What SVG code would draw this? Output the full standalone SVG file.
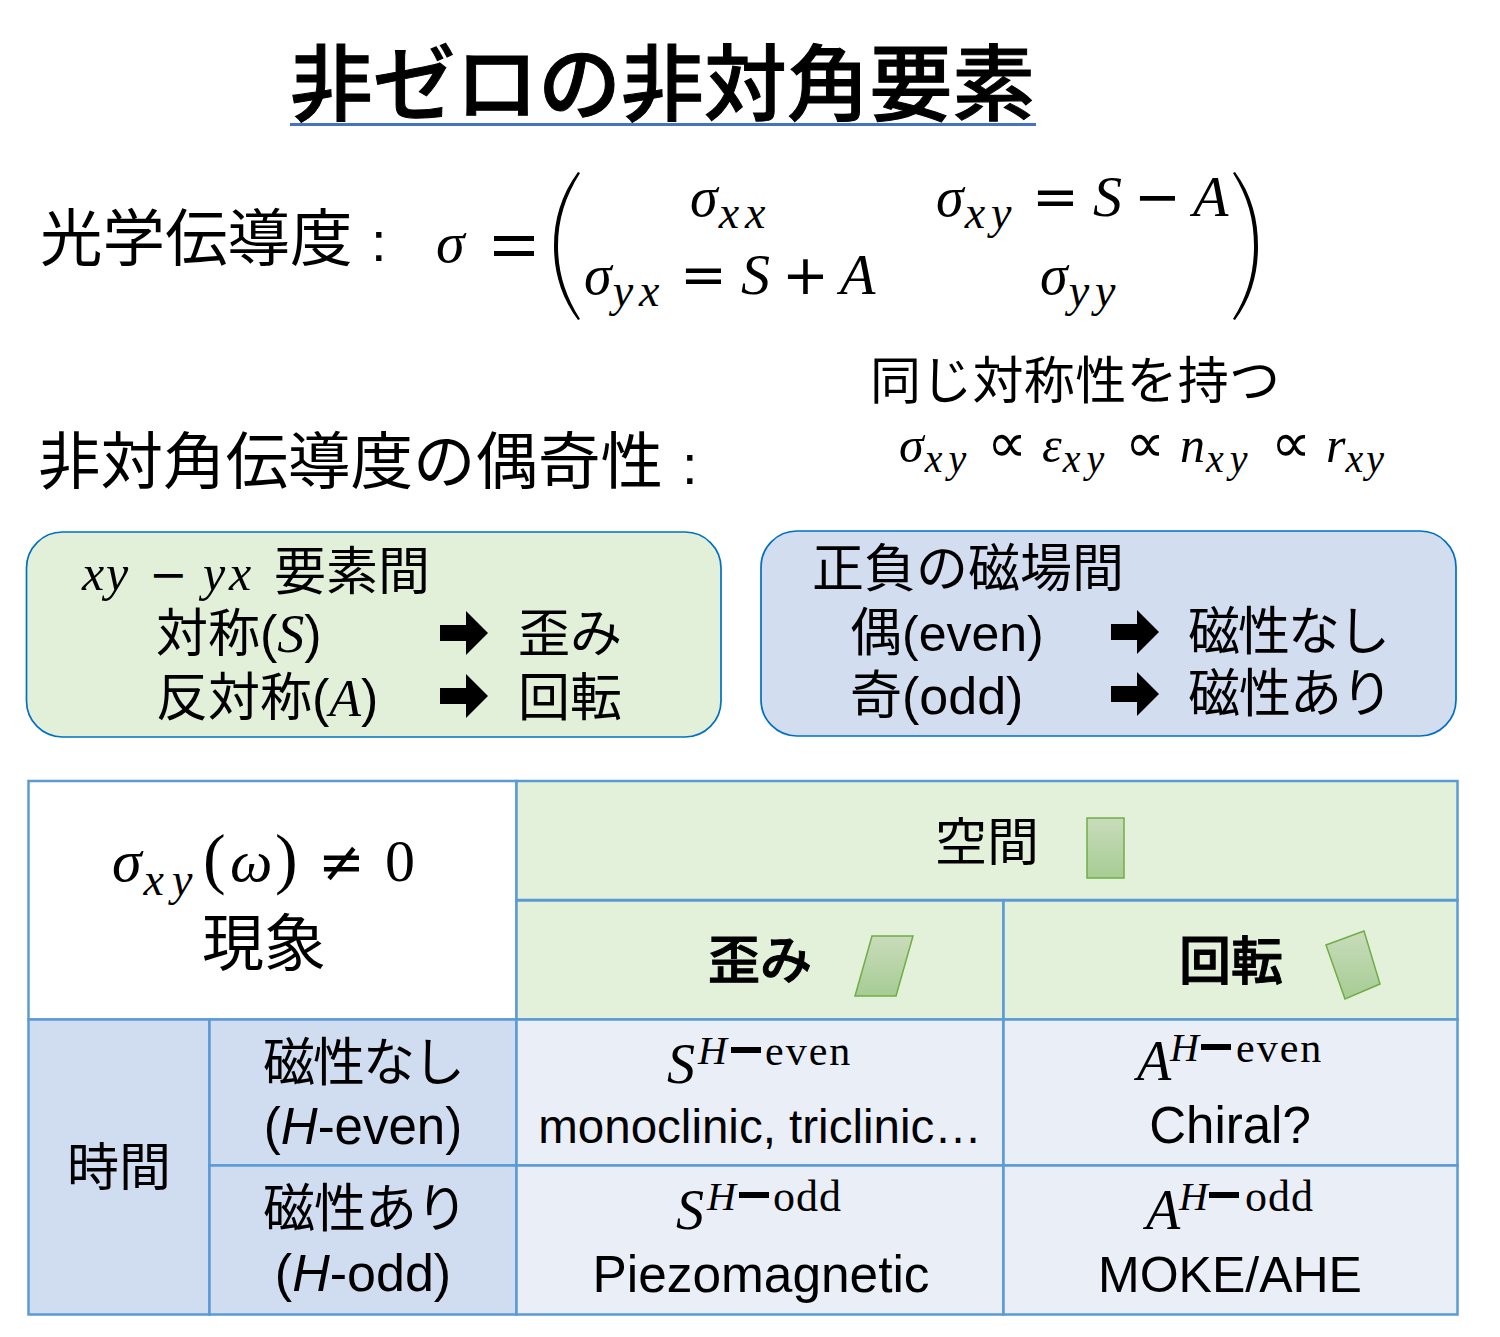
<svg xmlns="http://www.w3.org/2000/svg" width="1500" height="1337" viewBox="0 0 1500 1337">
<style>
text{fill:#000;font-family:"Noto Sans CJK JP","Liberation Sans",sans-serif}
.m{font-family:"Liberation Serif",serif;font-style:italic}
.r{font-family:"Liberation Serif",serif;font-style:normal}
.o{font-family:"DejaVu Sans",sans-serif;font-style:normal}
.u{font-family:"Liberation Sans","Noto Sans CJK JP",sans-serif}
.c{text-anchor:middle}
.sub{font-size:46px;letter-spacing:6px}
.sb2{font-size:40px;letter-spacing:6px}
.sb4{font-size:40px;letter-spacing:3px}
.sb3{font-size:46px;letter-spacing:8px}
.cell{stroke:#5b9bd5;stroke-width:2.5}
.g{fill:#e3f0da}.b{fill:#d0dcef}.l{fill:#e9eef7}
.sh{fill:url(#gr);stroke:#70ad47;stroke-width:1.5}
.box{stroke:#0070c0;stroke-width:1.7}
.hb{stroke:#000;stroke-width:1}
</style>
<defs>
<linearGradient id="gr" x1="0" y1="0" x2="0" y2="1"><stop offset="0" stop-color="#c9dcbb"/><stop offset="1" stop-color="#a6cc94"/></linearGradient>
<path id="arr" d="M0-8H26V-22L48 0 26 22V8H0Z"/>
</defs>
<rect width="1500" height="1337" fill="#fff"/>
<g id="title"><text class="hb" x="290" y="114" font-size="83" font-weight="500" textLength="745" lengthAdjust="spacingAndGlyphs">非ゼロの非対角要素</text><rect x="290" y="123" width="746" height="3" fill="#4472c4"/></g>
<g id="conductivity">
<text x="40" y="261" font-size="62.500">光学伝導度</text>
<text class="u" x="371" y="261" font-size="56">:</text>
<text class="m" x="436" y="262" font-size="58">σ</text>
<path d="M494 236h40v5h-40zM494 251h40v5h-40z"/>
<path d="M580 173C565 197 558 220 558 246S565 295 580 319L578 320C561 297 554 272 554 246S561 195 578 172Z"/>
<path d="M1233 173C1248 197 1254 220 1254 246S1248 295 1233 319L1235 320C1252 297 1258 272 1258 246S1252 195 1235 172Z"/>
<text class="m" x="690" y="216" font-size="56">σ<tspan class="sub" dx="1" dy="12">xx</tspan></text>
<text class="m" x="936" y="216" font-size="56">σ<tspan class="sub" dx="1" dy="12">xy</tspan></text>
<text class="m" y="216" font-size="58"><tspan class="o" font-size="56" x="1032">=</tspan><tspan x="1093">S</tspan><tspan class="o" font-size="56" x="1134">−</tspan><tspan x="1193">A</tspan></text>
<text class="m" x="584" y="294" font-size="56">σ<tspan class="sub" dx="1" dy="12">yx</tspan></text>
<text class="m" y="294" font-size="58"><tspan class="o" font-size="56" x="680">=</tspan><tspan x="741">S</tspan><tspan class="o" font-size="56" x="782">+</tspan><tspan x="840">A</tspan></text>
<text class="m" x="1040" y="294" font-size="56">σ<tspan class="sub" dx="1" dy="12">yy</tspan></text>
</g>
<g id="parity">
<text x="38" y="484" font-size="62.500">非対角伝導度の偶奇性</text>
<text class="u" x="682" y="484" font-size="56">:</text>
<text x="870" y="399" font-size="51" textLength="410" lengthAdjust="spacing">同じ対称性を持つ</text>
<text class="m" x="899" y="462" font-size="50">σ<tspan class="sb2" dx="1" dy="10">xy</tspan></text>
<text class="o" x="987" y="462" font-size="56">∝</text>
<text class="m" x="1042" y="462" font-size="50">ε<tspan class="sb2" dx="1" dy="10">xy</tspan></text>
<text class="o" x="1125" y="462" font-size="56">∝</text>
<text class="m" x="1180" y="462" font-size="50">n<tspan class="sb2" dx="1" dy="10">xy</tspan></text>
<text class="o" x="1271" y="462" font-size="56">∝</text>
<text class="m" x="1326" y="462" font-size="50">r<tspan class="sb4" dy="10">xy</tspan></text>
</g>
<g id="box-symmetry">
<rect class="box" x="26.500" y="532" width="694.500" height="205" rx="36" fill="#e2f0d9"/>
<text class="m" y="590" font-size="50"><tspan x="82">x</tspan><tspan x="106">y</tspan><tspan class="o" font-size="46" x="149">−</tspan><tspan x="203">y</tspan><tspan x="229">x</tspan></text>
<text x="274" y="590" font-size="52">要素間</text>
<text x="156" y="652" font-size="52">対称<tspan class="u">(</tspan><tspan class="m" font-size="54">S</tspan><tspan class="u">)</tspan></text>
<text x="156" y="716" font-size="52">反対称<tspan class="u">(</tspan><tspan class="m" font-size="52">A</tspan><tspan class="u">)</tspan></text>
<use href="#arr" x="440" y="633"/><use href="#arr" x="440" y="696"/>
<text x="518" y="652" font-size="52">歪み</text>
<text x="518" y="716" font-size="52">回転</text>
</g>
<g id="box-field">
<rect class="box" x="761" y="531" width="695" height="205" rx="36" fill="#d2ddf0"/>
<text x="812" y="587" font-size="52">正負の磁場間</text>
<text x="850" y="651" font-size="52">偶<tspan class="u" font-size="50">(even)</tspan></text>
<text x="850" y="714" font-size="52">奇<tspan class="u">(odd)</tspan></text>
<use href="#arr" x="1111" y="632"/><use href="#arr" x="1111" y="694"/>
<text x="1188" y="650" font-size="52" letter-spacing="-2">磁性なし</text>
<text x="1188" y="712" font-size="52" letter-spacing="-1">磁性あり</text>
</g>
<g id="table">
<rect class="cell" x="28.500" y="781" width="488" height="238.500" fill="#fff"/>
<rect class="cell g" x="516.500" y="781" width="941" height="119"/>
<rect class="cell g" x="516.500" y="900.500" width="487" height="119"/>
<rect class="cell g" x="1003.500" y="900.500" width="454" height="119"/>
<rect class="cell b" x="28.500" y="1019.500" width="181" height="295"/>
<rect class="cell b" x="209.500" y="1019.500" width="307" height="146"/>
<rect class="cell b" x="209.500" y="1165.500" width="307" height="149"/>
<rect class="cell l" x="516.500" y="1019.500" width="487" height="146"/>
<rect class="cell l" x="1003.500" y="1019.500" width="454" height="146"/>
<rect class="cell l" x="516.500" y="1165.500" width="487" height="149"/>
<rect class="cell l" x="1003.500" y="1165.500" width="454" height="149"/>
</g>
<g id="cell-sigma">
<text class="m" x="112" y="881" font-size="60">σ<tspan class="sb3" dx="2" dy="14">xy</tspan></text>
<text class="r" y="881" font-size="68"><tspan x="203">(</tspan><tspan class="m" font-size="60" x="230">ω</tspan><tspan x="275">)</tspan></text>
<text class="o" x="318" y="881" font-size="56">≠</text>
<text class="r" x="385" y="881" font-size="60">0</text>
<text class="c" x="264" y="966" font-size="62">現象</text>
</g>
<g id="cell-space"><text x="935" y="861" font-size="52">空間</text><rect class="sh" x="1087" y="818" width="37" height="60"/></g>
<g id="cell-strain"><text class="hb" x="708" y="979" font-size="52" font-weight="500">歪み</text><path class="sh" d="M872 936H913L896 996H855Z"/></g>
<g id="cell-rotation"><text class="hb" x="1179" y="980" font-size="52" font-weight="500">回転</text><path class="sh" d="M1326 945L1364 931 1380 984 1345 999Z"/></g>
<g id="cell-time"><text x="67" y="1186" font-size="52">時間</text></g>
<g id="cell-nonmag"><text x="263" y="1081" font-size="52" letter-spacing="-2">磁性なし</text><text class="u c" x="363" y="1144" font-size="51">(<tspan font-style="italic">H</tspan>-even)</text></g>
<g id="cell-mag"><text x="263" y="1227" font-size="52" letter-spacing="-1">磁性あり</text><text class="u c" x="363" y="1291" font-size="52">(<tspan font-style="italic">H</tspan>-odd)</text></g>
<g id="cell-sheven"><text class="m" x="667" y="1083" font-size="56">S</text><text class="m" x="698" y="1064" font-size="40">H</text><rect x="731" y="1047" width="30" height="6"/><text class="r" x="765" y="1065" font-size="42" letter-spacing="2">even</text>
<text class="u c" x="760" y="1143" font-size="47.500">monoclinic, triclinic…</text></g>
<g id="cell-aeven"><text class="m" x="1137" y="1080" font-size="56">A</text><text class="m" x="1170" y="1061" font-size="40">H</text><rect x="1201" y="1044" width="30" height="6"/><text class="r" x="1236" y="1062" font-size="42" letter-spacing="2">even</text>
<text class="u c" x="1230" y="1143" font-size="51">Chiral?</text></g>
<g id="cell-sodd"><text class="m" x="676" y="1229" font-size="56">S</text><text class="m" x="707" y="1210" font-size="40">H</text><rect x="739" y="1192" width="30" height="6"/><text class="r" x="773" y="1211" font-size="44" letter-spacing="1">odd</text>
<text class="u c" x="761" y="1292" font-size="51.400">Piezomagnetic</text></g>
<g id="cell-aodd"><text class="m" x="1146" y="1229" font-size="56">A</text><text class="m" x="1179" y="1210" font-size="40">H</text><rect x="1209" y="1192" width="30" height="6"/><text class="r" x="1245" y="1211" font-size="44" letter-spacing="1">odd</text>
<text class="u c" x="1230" y="1292" font-size="50">MOKE/AHE</text></g>
</svg>
